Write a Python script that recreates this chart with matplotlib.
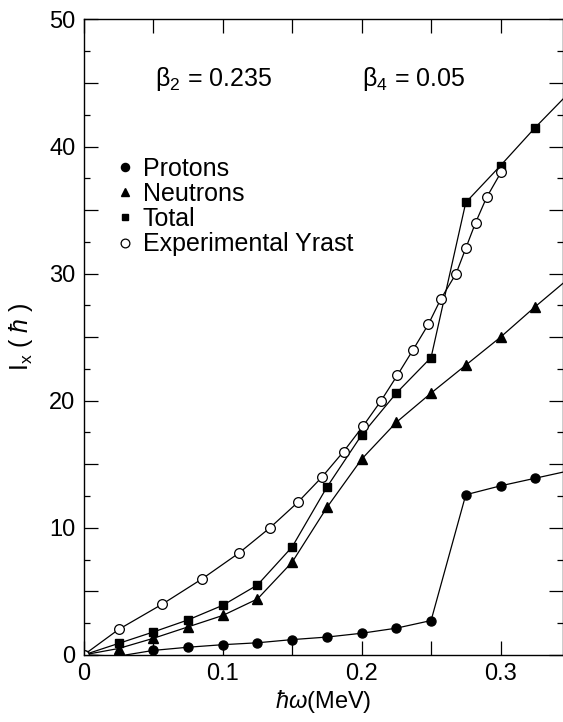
import numpy as np
import matplotlib
matplotlib.use("Agg")
import matplotlib.pyplot as plt
from matplotlib.ticker import MultipleLocator, FuncFormatter

plt.rcParams['font.family'] = ['Liberation Sans', 'DejaVu Sans']
plt.rcParams['mathtext.fontset'] = 'custom'
plt.rcParams['mathtext.rm'] = 'Liberation Sans'
plt.rcParams['mathtext.it'] = 'Liberation Sans:italic'

# calculated routhians (hbar*omega in MeV, I_x in hbar)
w_calc = [0, 0.025, 0.05, 0.075, 0.1, 0.125, 0.15, 0.175, 0.2, 0.225, 0.25, 0.275, 0.3, 0.325, 0.35]
protons = [0, -0.1, 0.35, 0.6, 0.8, 0.95, 1.2, 1.4, 1.7, 2.1, 2.7, 12.6, 13.3, 13.9, 14.5]
neutrons = [0, 0.5, 1.3, 2.2, 3.1, 4.4, 7.3, 11.6, 15.4, 18.3, 20.6, 22.8, 25.0, 27.4, 29.7]
total = [0, 0.9, 1.8, 2.75, 3.9, 5.5, 8.5, 13.2, 17.3, 20.6, 23.4, 35.6, 38.5, 41.5, 44.3]

# experimental yrast band
w_exp = [0, 0.025, 0.0566, 0.0854, 0.1115, 0.134, 0.154, 0.1715, 0.187, 0.201, 0.214,
         0.2257, 0.237, 0.248, 0.257, 0.268, 0.275, 0.282, 0.290, 0.3005]
i_exp = [0, 2, 4, 6, 8, 10, 12, 14, 16, 18, 20, 22, 24, 26, 28, 30, 32, 34, 36, 38]

fig = plt.figure(figsize=(5.63, 7.22), dpi=100)
ax = fig.add_axes([0.149, 0.093, 0.851, 0.880])

lw = 0.9
ax.plot(w_calc, protons, '-o', color='k', lw=lw, ms=6.5, label='Protons')
ax.plot(w_calc, neutrons, '-^', color='k', lw=lw, ms=7, label='Neutrons')
ax.plot(w_calc, total, '-s', color='k', lw=lw, ms=5.5, label='Total')
ax.plot(w_exp, i_exp, '-o', color='k', mfc='white', mec='k', mew=0.9, lw=lw, ms=7,
        label='Experimental Yrast')

ax.set_xlim(0, 0.345)
ax.set_ylim(0, 50)

ax.xaxis.set_major_locator(MultipleLocator(0.05))
ax.yaxis.set_major_locator(MultipleLocator(5))
ax.yaxis.set_minor_locator(MultipleLocator(2.5))

def xfmt(v, pos):
    if abs(v) < 1e-9:
        return '0'
    if abs(v * 10 - round(v * 10)) < 1e-6:
        return '%.1f' % v
    return ''

def yfmt(v, pos):
    if abs(v % 10) < 1e-6:
        return '%d' % v
    return ''

ax.xaxis.set_major_formatter(FuncFormatter(xfmt))
ax.yaxis.set_major_formatter(FuncFormatter(yfmt))
ax.tick_params(which='both', direction='in', top=True, right=True, labelsize=17, width=0.9)
ax.tick_params(which='major', length=10, pad=6)
ax.tick_params(which='minor', length=4)
for s in ax.spines.values():
    s.set_linewidth(1.0)

ax.set_xlabel(r'$\hbar\omega$(MeV)', fontsize=17, labelpad=2)
ax.set_ylabel(r'I$_\mathrm{x}$ ( $\hbar$ )', fontsize=18, labelpad=10)

ax.text(0.051, 45.3, r'β$_2$ = 0.235', fontsize=18, va='center')
ax.text(0.2, 45.3, r'β$_4$ = 0.05', fontsize=18, va='center')

ax.legend(loc='upper left', bbox_to_anchor=(0.05, 0.80), frameon=False, fontsize=18,
          handlelength=0.6, handletextpad=0.4, labelspacing=0.05, borderaxespad=0,
          markerscale=0.9)
# legend without line segments
leg = ax.get_legend()
for h in leg.legend_handles:
    h.set_linestyle('None')

fig.savefig('out.png', dpi=100)
